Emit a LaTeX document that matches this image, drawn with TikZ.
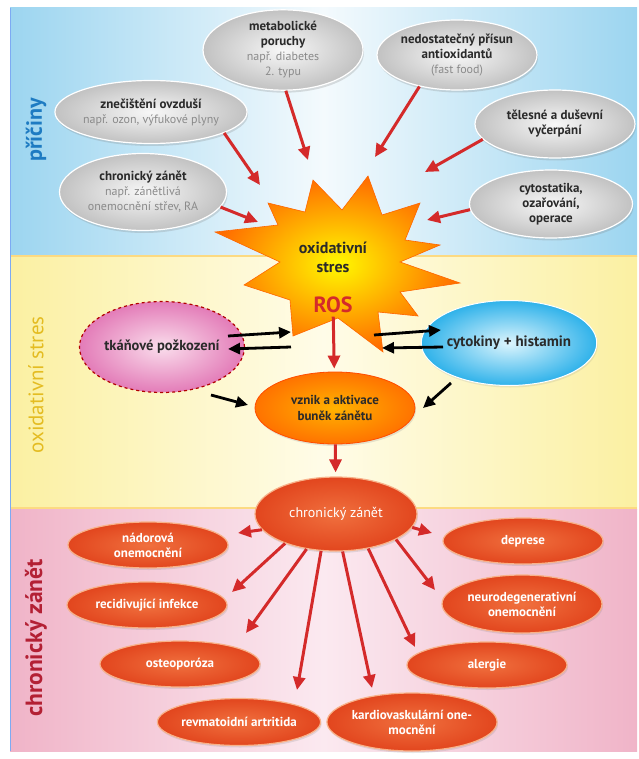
\documentclass[tikz,border=0pt]{standalone}
\usepackage{fontspec}
\setmainfont{PT Sans}
\usetikzlibrary{shapes.geometric,arrows.meta,shadows}

\definecolor{skyedge}{HTML}{9CD5F0}
\definecolor{skymid}{HTML}{F4FAFD}
\definecolor{yeledge}{HTML}{FBF0A2}
\definecolor{yelmid}{HTML}{FFFCE8}
\definecolor{pinkedge}{HTML}{F0B4C8}
\definecolor{pinkmid}{HTML}{FBE9F0}
\definecolor{labblue}{HTML}{1E7BC2}
\definecolor{labyel}{HTML}{E4BC22}
\definecolor{labred}{HTML}{B32034}
\definecolor{arrred}{HTML}{D42A2A}
\definecolor{txt}{HTML}{2A2A2A}
\definecolor{popis}{HTML}{8A8A8A}
\definecolor{zanet}{HTML}{E2461E}
\definecolor{zanetin}{HTML}{F0703E}
\definecolor{zanetrim}{HTML}{F8B28A}
\definecolor{tkanin}{HTML}{FADDEC}
\definecolor{tkanout}{HTML}{E37CB8}
\definecolor{cykin}{HTML}{DDF5FD}
\definecolor{cykout}{HTML}{2FB2EA}

\newcommand{\napr}[1]{{\mdseries\fontsize{12}{15}\selectfont\color{popis}#1}}

\begin{document}
\begin{tikzpicture}[
      x = 1pt, y = -1pt,
      every node/.style = {
        align = center, text = txt, font = \bfseries\fontsize{13}{15}\selectfont},
      pricina/.style = {
        ellipse, minimum width = 160pt, minimum height = 68pt, inner sep = 0pt,
        draw = white, line width = 1.2pt, inner color = gray!6, outer color = gray!48,
        drop shadow = {opacity = .25, shadow xshift = 1pt, shadow yshift = -2.5pt}},
      nemoc/.style = {
        ellipse, minimum width = 160pt, minimum height = 46pt, inner sep = 0pt,
        draw = zanetrim, line width = 1.2pt, inner color = zanetin, outer color = zanet,
        text = white, font = \bfseries\fontsize{13}{15}\selectfont,
        drop shadow = {opacity = .2, shadow xshift = 1pt, shadow yshift = -2pt}},
      redarrow/.style = {
        draw = arrred, line width = 3pt, -{Triangle[length = 13pt, width = 12pt]}},
      blackarrow/.style = {
        draw = black, line width = 2.8pt, -{Triangle[length = 12pt, width = 11pt]}},
      bandlabel/.style = {rotate = 90, font = \bfseries\fontsize{22}{24}\selectfont}
      ]
    \useasboundingbox (0,0) rectangle (638,759);
    % pasy
    \shade[left color = skyedge, right color = skyedge, middle color = skymid]
      (10,8) rectangle (637,256);
    \shade[left color = yeledge, right color = yeledge, middle color = yelmid]
      (10,256) rectangle (637,509);
    \shade[left color = pinkedge, right color = pinkedge, middle color = pinkmid]
      (10,509) rectangle (637,751);
    \draw[yeledge!80!orange, line width = 2.5pt] (10,256) -- (637,256);
    \draw[yeledge!80!orange, line width = 2pt] (10,508) -- (637,508);
    \draw[skyedge!80!blue, line width = 1pt] (10.5,8) -- (10.5,751);
    \node[bandlabel, text = labblue] (P1) at (36,130) {příčiny};
    \node[bandlabel, text = labyel, font = \fontsize{21}{24}\selectfont] (P2) at (36,385) {oxidativní stres};
    \node[bandlabel, text = labred, font = \bfseries\fontsize{23.5}{25}\selectfont] (P3) at (36,638) {chronický zánět};
    % hvezda
    \path[draw = orange!80!red, line width = .6pt, inner color = yellow!95!orange, outer color = orange!85!red]
      (313,180) -- (342,210) -- (368,176) -- (382,215) -- (420,203) -- (405,240)
      -- (440,245) -- (400,262) -- (460,283) -- (400,292) -- (418,316) -- (378,312)
      -- (383,352) -- (338,318) -- (293,336) -- (290,300) -- (244,285) -- (280,262)
      -- (215,232) -- (278,225) -- (268,203) -- (305,212) -- cycle;
    \node[font = \bfseries\fontsize{16}{19}\selectfont] (OS) at (333,257) {oxidativní\\stres};
    \node[text = arrred, font = \bfseries\fontsize{22}{24}\selectfont] (ROS) at (333,305) {ROS};
    % priciny
    \node[pricina] (MET) at (283,50) {metabolické\\poruchy\\\napr{např. diabetes}\\\napr{2. typu}}; % 0
    \node[pricina, minimum height = 63pt] (ZNE) at (151,112) {znečištění ovzduší\\\napr{např. ozon, výfukové plyny}}; % 1
    \node[pricina, minimum width = 167pt, minimum height = 77pt] (CHZ) at (143,192) {chronický zánět\\\napr{např. zánětlivá}\\\napr{onemocnění střev, RA}}; % 2
    \node[pricina, minimum height = 70pt] (NED) at (457,55) {nedostatečný přísun\\antioxidantů\\\napr{(fast food)}}; % 3
    \node[pricina] (TEL) at (555,124) {tělesné a duševní\\vyčerpání}; % 4
    \node[pricina, minimum width = 163pt] (CYT) at (551,204) {cytostatika,\\ozařování,\\operace}; % 5
    \coordinate (tMET) at (308,160);
    \coordinate (tZNE) at (260,185);
    \coordinate (tCHZ) at (258,222);
    \coordinate (tNED) at (375,157);
    \coordinate (tTEL) at (425,172);
    \coordinate (tCYT) at (427,220);
    \draw[redarrow] (MET.-86) -- (tMET);
    \draw[redarrow] (ZNE.-16) -- (tZNE);
    \draw[redarrow] (CHZ.-11) -- (tCHZ);
    \draw[redarrow] (NED.-140) -- (tNED);
    \draw[redarrow] (TEL.-168) -- (tTEL);
    \draw[redarrow] (CYT.184) -- (tCYT);
    % oxidativni stres
    \node[ellipse, minimum width = 165pt, minimum height = 91pt, inner sep = 0pt,
      draw = red!70!black, line width = 1.2pt, dashed, inner color = tkanin, outer color = tkanout,
      font = \bfseries\fontsize{14.5}{17}\selectfont] (TKA) at (162,347) {tkáňové požkození};
    \node[ellipse, minimum width = 160pt, minimum height = 85pt, inner sep = 0pt,
      draw = white, line width = 1pt, inner color = cykin, outer color = cykout,
      font = \bfseries\fontsize{15}{17}\selectfont,
      drop shadow = {opacity = .15, shadow xshift = 1pt, shadow yshift = -2pt}] (CYK) at (509,343) {cytokiny + histamin};
    \node[ellipse, minimum width = 160pt, minimum height = 72pt, inner sep = 0pt,
      draw = orange!60!red, line width = .8pt, inner color = orange!60!yellow, outer color = orange!90!red,
      font = \bfseries\fontsize{13}{15.5}\selectfont,
      drop shadow = {opacity = .2, shadow xshift = 1pt, shadow yshift = -2pt}] (VZN) at (335,408) {vznik a aktivace\\buněk zánětu};
    \coordinate (k1) at (228,336);
    \coordinate (k2) at (291,332);
    \coordinate (k3) at (291,347);
    \coordinate (k4) at (228,349);
    \coordinate (k5) at (374,335);
    \coordinate (k6) at (441,330);
    \coordinate (k7) at (443,347);
    \coordinate (k8) at (382,348);
    \coordinate (k9) at (211,395);
    \coordinate (k10) at (248,405);
    \coordinate (k11) at (451,383);
    \coordinate (k12) at (423,408);
    \draw[blackarrow] (k1) -- (k2);
    \draw[blackarrow] (k3) -- (k4);
    \draw[blackarrow] (k5) -- (k6);
    \draw[blackarrow] (k7) -- (k8);
    \draw[blackarrow] (k9) -- (k10);
    \draw[blackarrow] (k11) -- (k12);
    \draw[redarrow, shorten > = 3pt] (ROS) -- (VZN);
    % chronicky zanet
    \node[nemoc, minimum width = 162pt, minimum height = 74pt,
      font = \fontsize{14}{16}\selectfont] (CHR) at (336,514) {chronický zánět};
    \draw[redarrow, shorten > = 4pt] (VZN) -- (CHR);
    \node[nemoc] (NAD) at (148,545) {nádorová\\onemocnění}; % 0
    \node[nemoc] (REC) at (147,605) {recidivující infekce}; % 1
    \node[nemoc] (OST) at (180,664) {osteoporóza}; % 2
    \node[nemoc, minimum height = 47pt] (REV) at (239,722) {revmatoidní artritida}; % 3
    \node[nemoc, minimum width = 165pt, minimum height = 58pt] (KAR) at (412,722) {kardiovaskulární one-\\mocnění}; % 4
    \node[nemoc] (ALE) at (487,665) {alergie}; % 5
    \node[nemoc, minimum height = 58pt] (NEU) at (522,604) {neurodegenerativní\\onemocnění}; % 6
    \node[nemoc] (DEP) at (523,541) {deprese}; % 7
    \coordinate (tNAD) at (238,533);
    \coordinate (tREC) at (232,592);
    \coordinate (tOST) at (246,633);
    \coordinate (tREV) at (297,690);
    \coordinate (tKAR) at (372,688);
    \coordinate (tALE) at (415,647);
    \coordinate (tNEU) at (435,590);
    \coordinate (tDEP) at (432,533);
    \draw[redarrow] (CHR.-168) -- (tNAD);
    \draw[redarrow] (CHR.-150) -- (tREC);
    \draw[redarrow] (CHR.-130) -- (tOST);
    \draw[redarrow] (CHR.-112) -- (tREV);
    \draw[redarrow] (CHR.-80) -- (tKAR);
    \draw[redarrow] (CHR.-47) -- (tALE);
    \draw[redarrow] (CHR.-23) -- (tNEU);
    \draw[redarrow] (CHR.-10) -- (tDEP);
  \end{tikzpicture}
\end{document}
